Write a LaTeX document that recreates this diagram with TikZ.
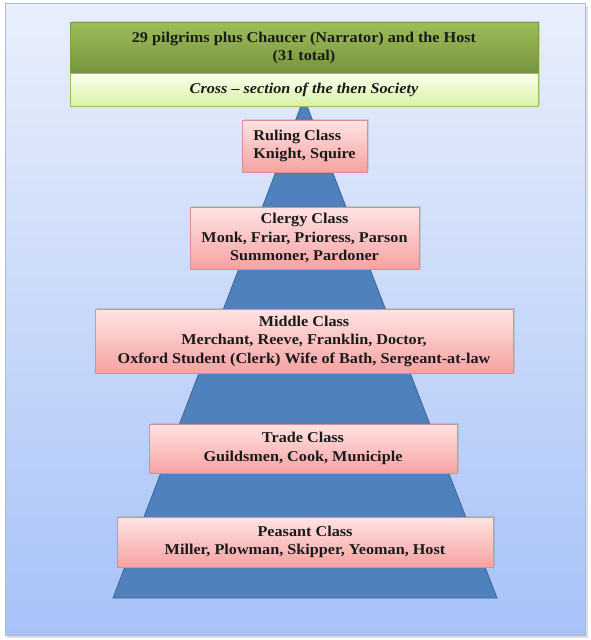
\documentclass[tikz,border=0pt]{standalone}
\usepackage{fontspec}
\setmainfont[FakeStretch=1.08]{Liberation Serif}
\usetikzlibrary{shadows}
\definecolor{bgtop}{HTML}{E9EFFB}
\definecolor{bgbot}{HTML}{A7C2F8}
\definecolor{bgedge}{HTML}{AEBCD2}
\definecolor{pyr}{HTML}{4F81BD}
\definecolor{pyredge}{HTML}{3B6597}
\definecolor{pinktop}{HTML}{FFE3E3}
\definecolor{pinkbot}{HTML}{F7A2A2}
\definecolor{pinkedge}{HTML}{D98F8D}
\definecolor{gtop}{HTML}{9DBE5A}
\definecolor{gbot}{HTML}{76933C}
\definecolor{gedge}{HTML}{7E9C45}
\definecolor{lgtop}{HTML}{FBFFEE}
\definecolor{lgbot}{HTML}{D9F1A6}
\definecolor{lgedge}{HTML}{9CBB5E}
\definecolor{txt}{HTML}{1A1A1A}
\tikzset{
  classbox/.style={draw=pinkedge, line width=0.8pt, top color=pinktop, bottom color=pinkbot,
    drop shadow={shadow xshift=1.5pt, shadow yshift=1.5pt, opacity=0.25},
    text=txt, align=center, font=\fontsize{15}{18.5}\selectfont\bfseries, inner sep=0pt},
  headbox/.style={draw=gedge, line width=0.8pt, top color=gtop, bottom color=gbot,
    drop shadow={shadow xshift=1.5pt, shadow yshift=1.5pt, opacity=0.25},
    text=txt, align=center, font=\fontsize{15}{18}\selectfont\bfseries, inner sep=0pt},
  subbox/.style={draw=lgedge, line width=0.8pt, top color=lgtop, bottom color=lgbot,
    drop shadow={shadow xshift=1.5pt, shadow yshift=1.5pt, opacity=0.25},
    text=txt, align=center, font=\fontsize{15}{18}\selectfont\bfseries\itshape, inner sep=0pt}
}
\newcommand{\boxat}[8][]{% opts, name, style, x1, y1, x2, y2, text
  \node[#3, minimum width={#6-#4}, minimum height={#7-#5}, #1] (#2) at ({(#4+#6)/2},{(#5+#7)/2}) {#8};}
\begin{document}
\begin{tikzpicture}[x=1pt,y=-1pt]
\useasboundingbox (0,0) rectangle (590,640);
\fill[white] (0,0) rectangle (590,640);
% background panel
\fill[black!25, opacity=0.5] (7,6) rectangle (588,638);
\shade[top color=bgtop, bottom color=bgbot] (5,3) rectangle (585,635);
\draw[bgedge, line width=0.8pt] (5,3) rectangle (585,635);
% pyramid
\coordinate (bl) at (113,598);
\coordinate (br) at (497,598);
\draw[pyredge, fill=pyr, line width=0.8pt, line join=miter] (301,106) -- (307,106) -- (br) -- (bl) -- cycle;
% header boxes
\boxat{head}{headbox}{70}{22}{538}{73}{29 pilgrims plus Chaucer (Narrator) and the Host\\(31 total)}
\boxat{sub}{subbox}{70}{73}{538}{106}{Cross – section of the then Society}
% class boxes
\boxat[align=left]{ruling}{classbox}{242}{120}{367}{172}{Ruling Class\\Knight, Squire}
\boxat{clergy}{classbox}{190}{207}{419}{269}{Clergy Class\\Monk, Friar, Prioress, Parson\\Summoner, Pardoner}
\boxat{middle}{classbox}{95}{309}{513}{373}{Middle Class\\Merchant, Reeve, Franklin, Doctor,\\Oxford Student (Clerk) Wife of Bath, Sergeant-at-law}
\boxat{trade}{classbox}{149}{424}{457}{473}{Trade Class\\Guildsmen, Cook, Municiple}
\boxat{peasant}{classbox}{117}{517}{493}{567}{Peasant Class\\Miller, Plowman, Skipper, Yeoman, Host}
\end{tikzpicture}
\end{document}
